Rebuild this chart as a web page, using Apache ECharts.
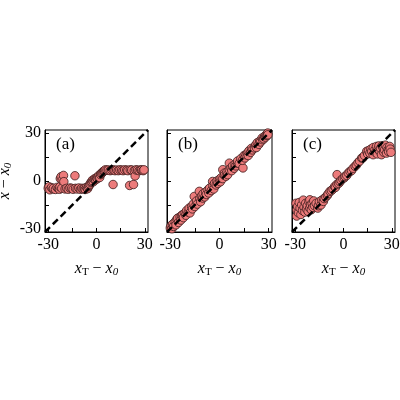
<!DOCTYPE html>
<html>
<head>
<meta charset="utf-8">
<script src="https://cdn.jsdelivr.net/npm/echarts@6/dist/echarts.min.js"></script>
<style>html,body{margin:0;padding:0;background:#fff}#main{width:400px;height:400px}</style>
</head>
<body>
<div id="main"></div>
<script>
// 三个面板的散点数据 [x_T - x_0, x - x_0]
var panelA = [[-30,-4.5],[-29.5,-3.6],[-29,-5.5],[-28,-4.2],[-27,-5],[-26.8,-4.6],[-25.5,-5.3],[-24.5,-4],[-23.7,-4.6],[-23,-5.2],[-22.7,-3.6],[-22.5,1.5],[-22,2.7],[-21.6,-4.6],[-21.3,0.5],[-20.5,3.5],[-20.3,-0.4],[-19.5,-5],[-18.5,-4.6],[-17.5,-5.2],[-16.5,-4.4],[-15.4,-4.6],[-14.5,-5.2],[-13.4,3.3],[-13,-4.6],[-12,-5],[-11,-4.4],[-10,-5.2],[-9.2,-4.6],[-8.3,-5],[-7.5,-4.5],[-7,-5.3],[-6.2,-4],[-5.5,-4.8],[-5,-3.6],[-4.5,-2.8],[-4,-2],[-3.5,-1],[-3,-0.5],[-2.5,0.5],[-2,-0.5],[-1.5,1],[-1,1.5],[-0.5,0.8],[0,2],[0.5,1.5],[1,2.7],[1.5,3.5],[2,2.2],[2.5,4],[3,4.8],[3.5,5.2],[4,5.8],[4.5,6.2],[5,6.5],[5.5,7],[6.5,6.8],[7.4,6.9],[8.5,6.5],[9.4,6.9],[10.3,-2.2],[10.5,7],[11.5,6.5],[12.5,6.9],[13.5,6.5],[14.5,7],[15.6,6.9],[16.5,6.5],[17.5,7],[18.8,6.9],[19.5,6.5],[20.6,-2.8],[21,7],[21.9,6.9],[23,-2.2],[23.5,6.5],[24,3.2],[24.5,7],[25.5,6.9],[26.5,6.5],[27.5,7],[28.1,6.9],[29,6.5],[29.5,7]];
var panelB = [[-30,-29.5],[-29.5,-28],[-29,-30],[-28.5,-27],[-28,-28.5],[-27,-25.5],[-26.5,-27.5],[-26,-24],[-25.5,-23.3],[-25,-26],[-24,-22.5],[-23.5,-24.5],[-23,-21.5],[-22.4,-21.2],[-22,-23],[-21,-20],[-20.5,-21.5],[-20,-18.5],[-19,-19.5],[-18.5,-17],[-18,-20],[-17,-16],[-16.5,-17.5],[-16,-14.5],[-15.4,-9.7],[-15,-16],[-14,-12.5],[-13.5,-14.5],[-12.3,-6.5],[-12,-11],[-11.5,-13],[-11,-9.5],[-10.2,-10.7],[-10,-8],[-9,-10],[-8.5,-7],[-8,-8.5],[-7,-5.5],[-6.5,-7.5],[-6,-4.5],[-5,-6],[-4.2,-0.3],[-4,-3],[-3.5,-5],[-3,-1.5],[-2,-2.5],[-1.5,0],[-1,-1.5],[0,1],[0.5,-0.5],[1,2],[2,7.1],[2,1.5],[3,5],[3,3.5],[4,3],[4.5,5.5],[5,4],[6,11.2],[6,7],[7,8.1],[7.5,6.5],[8,9.5],[9,8],[9.5,10.5],[10,9.5],[11,11.2],[11,12.5],[12,11],[13,14],[14.3,8.2],[14,13],[15,16],[15.5,14.5],[16.2,16.5],[17,17.5],[17.5,16],[18,19],[19,18],[19.5,20.5],[20,19.5],[21.3,20.7],[22,22.5],[22.5,21],[23,24],[24,23],[24.5,25],[25,24.5],[26,27],[26.4,25.9],[27,26.5],[27.5,28],[28,27.5],[28.5,29],[29,28.5],[29.4,30.1],[29.5,29]];
var panelC = [[-29.5,-14],[-29,-18],[-29.1,-22],[-28.5,-16],[-28,-20],[-27.5,-13.5],[-27,-17],[-26.5,-21],[-26,-15],[-25.5,-18.5],[-25,-12],[-24.5,-16.5],[-24,-19.5],[-23.5,-14],[-23,-17.5],[-22.5,-15.5],[-22,-19],[-21.5,-13],[-21,-17],[-20.9,-11.8],[-20.5,-15],[-20,-18],[-19.5,-14],[-19,-16.5],[-18.5,-12.5],[-18,-15.5],[-17,-14],[-16,-17],[-15.6,-15.5],[-15,-13],[-14,-15],[-13.5,-12],[-12.5,-12.8],[-12,-11],[-11,-10],[-10,-9],[-9.5,-8],[-8.4,-6.5],[-7.5,-6],[-6.5,-5],[-5.5,-3.5],[-5,-4],[-4,4],[-4,-2],[-3,-1.5],[-2.2,-0.5],[-1.5,0.5],[-0.5,1.5],[0.5,2],[1,3],[2,3.5],[3,5],[4,6],[5,6.5],[6,8],[7.2,9.2],[8,10],[9,11.5],[10,12.5],[11.3,14.4],[12,14.5],[13,16],[14.4,18.6],[15,17],[15.5,19],[16.4,17.5],[17,20],[17.5,18.5],[18.4,16.5],[18.5,21],[19.5,19.6],[20,18],[20.5,21.7],[21,17],[21.5,20],[22,22],[22.6,18.6],[23,20.5],[23.6,16.5],[24,22],[24.7,20.7],[25,18],[25.5,19.5],[26,22.5],[26.7,17.5],[27,21],[27.7,19.6],[28,18.5],[28.7,21.7],[29,20],[29.5,18]];
var diagLine = [[-32,-32],[32,32]];
var tickValues = [-30,-15,0,15,30];
var labelValues = [-30,0,30];
var panelNames = ['(a)','(b)','(c)'];

var serif = 'Liberation Serif';
var rich = {
  i: {fontFamily: serif, fontStyle: 'italic', fontSize: 16, color: '#000'},
  n: {fontFamily: serif, fontSize: 16, color: '#000'},
  s: {fontFamily: serif, fontSize: 11, color: '#000', padding: [7,0,0,0]},
  si: {fontFamily: serif, fontStyle: 'italic', fontSize: 11, color: '#000', padding: [7,0,0,0]}
};
var grids = [
  {left: 45, top: 130, width: 103, height: 102},
  {left: 167, top: 130, width: 105, height: 102},
  {left: 292, top: 130, width: 103, height: 102}
];

var xAxes = [], yAxes = [], series = [], titles = [];
for (var k = 0; k < 3; k++) {
  var g = grids[k];
  g.show = true; g.borderColor = '#000'; g.borderWidth = 1;
  g.containLabel = false; g.outerBoundsMode = 'none';
  xAxes.push({
    type: 'value', gridIndex: k, min: -32, max: 32,
    name: '{i|x}{s|T}{n| − }{i|x}{si|0}', nameLocation: 'middle', nameGap: 28,
    nameTextStyle: {rich: rich},
    axisLine: {onZero: false, lineStyle: {color: '#000', width: 1}},
    axisTick: {inside: true, length: 4, customValues: tickValues, lineStyle: {color: '#000'}},
    axisLabel: {customValues: labelValues, margin: 5, fontFamily: serif, fontSize: 16, color: '#000'},
    splitLine: {show: false}
  });
  yAxes.push({
    type: 'value', gridIndex: k, min: -32, max: 32,
    name: k === 0 ? '{i|x}{n| − }{i|x}{si|0}' : '', nameLocation: 'middle', nameGap: 31, nameRotate: 90,
    nameTextStyle: {rich: rich},
    axisLine: {onZero: false, lineStyle: {color: '#000', width: 1}},
    axisTick: {inside: true, length: 4, customValues: tickValues, lineStyle: {color: '#000'}},
    axisLabel: {show: k === 0, customValues: labelValues, margin: 4, fontFamily: serif, fontSize: 16, color: '#000'},
    splitLine: {show: false}
  });
  titles.push({
    text: panelNames[k], left: g.left + 6, top: 131,
    textStyle: {fontFamily: serif, fontSize: 17, fontWeight: 'normal', color: '#000'}
  });
}
var datasets = [panelA, panelB, panelC];
for (var j = 0; j < 3; j++) {
  series.push({
    type: 'scatter', xAxisIndex: j, yAxisIndex: j, data: datasets[j],
    symbolSize: 8.5,
    itemStyle: {color: '#ec7b7b', borderColor: '#3b1c1c', borderWidth: 0.8, opacity: 1},
    z: 2
  });
  series.push({
    type: 'line', xAxisIndex: j, yAxisIndex: j, data: diagLine,
    symbol: 'none', silent: true,
    lineStyle: {color: '#000', width: 2.5, type: [7,4]},
    z: 3
  });
}

var myChart = echarts.init(document.getElementById('main'), null, {renderer: 'canvas'});
myChart.setOption({
  animation: false,
  backgroundColor: '#fff',
  title: titles,
  grid: grids,
  xAxis: xAxes,
  yAxis: yAxes,
  series: series
});
</script>
</body>
</html>
